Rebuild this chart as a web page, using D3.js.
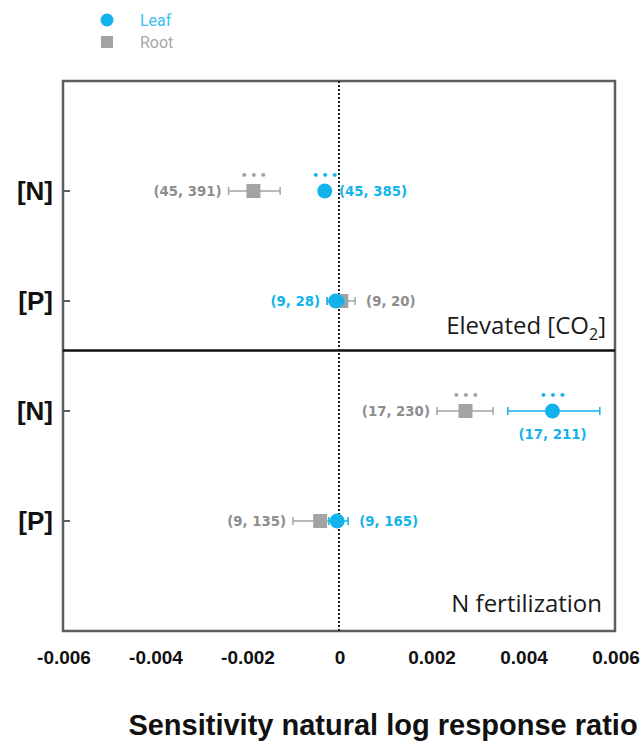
<!DOCTYPE html>
<html><head><meta charset="utf-8">
<script src="https://cdn.jsdelivr.net/npm/d3@7"></script>
<style>body{margin:0;background:#fff}svg{display:block}</style>
</head><body>
<svg id="chart" width="644" height="745"></svg>
<script>
// ---- data ----
const panels = ["Elevated [CO2]", "N fertilization"];
const rowLabels = ["[N]", "[P]", "[N]", "[P]"];
const rowPanel = [0, 0, 1, 1];
const leafMean = [-0.00031, -0.00007, 0.00464, -0.00004];
const leafLo   = [-0.00038, -0.00026, 0.00367, -0.00022];
const leafHi   = [-0.00024, 0.00010, 0.00567, 0.00020];
const rootMean = [-0.00186, 0.00005, 0.00275, -0.00041];
const rootLo   = [-0.00240, -0.00025, 0.00213, -0.00100];
const rootHi   = [-0.00128, 0.00035, 0.00335, -0.00010];
const leafN = ["(45, 385)", "(9, 28)", "(17, 211)", "(9, 165)"];
const rootN = ["(45, 391)", "(9, 20)", "(17, 230)", "(9, 135)"];
const leafSig = ["***", "", "***", ""];
const rootSig = ["***", "", "***", ""];
const leafLabelSide = ["right", "left", "below", "right"];
const rootLabelSide = ["left", "right", "left", "left"];
const xTicks = [-0.006, -0.004, -0.002, 0, 0.002, 0.004, 0.006];
const seriesNames = ["Leaf", "Root"];

// ---- layout ----
const blue = "#12b3ec", gray = "#a3a3a3", grayTxt = "#8d8d8d";
const svg = d3.select("#chart");
const x = d3.scaleLinear().domain([-0.006, 0.006]).range([63, 615]);
const y = d3.scaleLinear().domain([0, 5]).range([81, 631]);
const rowY = i => y(i + 1);

// frame
svg.append("rect").attr("x", x(-0.006)).attr("y", y(0))
  .attr("width", x(0.006) - x(-0.006)).attr("height", y(5) - y(0))
  .attr("fill", "none").attr("stroke", "#5e5e5e").attr("stroke-width", 2.5);

// zero dotted line
svg.append("line").attr("x1", x(0)).attr("x2", x(0)).attr("y1", y(0)).attr("y2", y(5))
  .attr("stroke", "#222").attr("stroke-width", 2).attr("stroke-dasharray", "2,2");

// divider
svg.append("line").attr("x1", x(-0.006)).attr("x2", x(0.006))
  .attr("y1", y(2.45)).attr("y2", y(2.45)).attr("stroke", "#111").attr("stroke-width", 2.5);

// y ticks + labels
const rows = d3.range(rowLabels.length);
svg.selectAll(".ytick").data(rows).join("line")
  .attr("x1", x(-0.006)).attr("x2", x(-0.006) + 7)
  .attr("y1", rowY).attr("y2", rowY).attr("stroke", "#5e5e5e").attr("stroke-width", 2);
svg.selectAll(".ylab").data(rows).join("text")
  .attr("x", 53).attr("y", i => rowY(i) + 9)
  .attr("text-anchor", "end").attr("font-family", "Liberation Sans, Arial, sans-serif")
  .attr("font-weight", "bold").attr("font-size", 26).attr("fill", "#111")
  .text(i => rowLabels[i]);

// x tick labels
svg.selectAll(".xlab").data(xTicks).join("text")
  .attr("x", d => x(d) + 1).attr("y", 664).attr("text-anchor", "middle")
  .attr("font-family", "Liberation Sans, Arial, sans-serif").attr("font-weight", "bold")
  .attr("font-size", 19).attr("fill", "#111")
  .text(d => d === 0 ? "0" : d3.format(".3f")(d).replace("−", "-"));

// x axis title
svg.append("text").attr("x", 383).attr("y", 735).attr("text-anchor", "middle")
  .attr("font-family", "Liberation Sans, Arial, sans-serif").attr("font-weight", "bold")
  .attr("font-size", 29).attr("fill", "#111").text("Sensitivity natural log response ratio");

// panel labels
const pl = svg.append("text").attr("x", 606).attr("y", y(2.45) - 17).attr("text-anchor", "end")
  .attr("font-family", "Open Sans, sans-serif").attr("font-size", 24).attr("font-weight", 500)
  .attr("fill", "#1a1a1a");
pl.append("tspan").text("Elevated [CO");
pl.append("tspan").attr("font-size", 16).attr("dy", 6).text("2");
pl.append("tspan").attr("dy", -6).text("]");
svg.append("text").attr("x", 602).attr("y", y(5) - 19).attr("text-anchor", "end")
  .attr("font-family", "Open Sans, sans-serif").attr("font-size", 24).attr("font-weight", 500)
  .attr("fill", "#1a1a1a").text(panels[1]);

// error bars helper
function errbar(lo, hi, yy, color) {
  const g = svg.append("g").attr("stroke", color).attr("stroke-width", 1.5);
  g.append("line").attr("x1", x(lo)).attr("x2", x(hi)).attr("y1", yy).attr("y2", yy);
  g.append("line").attr("x1", x(lo)).attr("x2", x(lo)).attr("y1", yy - 4).attr("y2", yy + 4);
  g.append("line").attr("x1", x(hi)).attr("x2", x(hi)).attr("y1", yy - 4).attr("y2", yy + 4);
}
const annFont = "DejaVu Sans, Verdana, sans-serif";
function ann(txt, side, lo, hi, mean, yy, color) {
  const t = svg.append("text").attr("font-family", annFont).attr("font-weight", "bold")
    .attr("font-size", 13.3).attr("fill", color).text(txt);
  if (side === "left") t.attr("x", x(lo) - 7).attr("y", yy + 5).attr("text-anchor", "end");
  else if (side === "right") t.attr("x", x(hi) + 11).attr("y", yy + 5).attr("text-anchor", "start");
  else t.attr("x", x(mean)).attr("y", yy + 28).attr("text-anchor", "middle");
}
function sig(s, mean, yy, color) {
  if (!s) return;
  svg.append("text").attr("x", x(mean) + 1.5).attr("y", yy - 12).attr("text-anchor", "middle")
    .attr("font-family", annFont).attr("font-size", 11).attr("font-weight", "bold")
    .attr("letter-spacing", 2.5).attr("fill", color).text("•••");
}

// root (drawn first)
rows.forEach(i => {
  const yy = rowY(i);
  errbar(rootLo[i], rootHi[i], yy, gray);
  svg.append("rect").attr("x", x(rootMean[i]) - 7).attr("y", yy - 7)
    .attr("width", 14).attr("height", 14).attr("fill", gray);
  ann(rootN[i], rootLabelSide[i], rootLo[i], rootHi[i], rootMean[i], yy, grayTxt);
  sig(rootSig[i], rootMean[i], yy, gray);
});
// leaf
rows.forEach(i => {
  const yy = rowY(i);
  errbar(leafLo[i], leafHi[i], yy, blue);
  svg.append("circle").attr("cx", x(leafMean[i])).attr("cy", yy).attr("r", 7.5).attr("fill", blue);
  ann(leafN[i], leafLabelSide[i], leafLo[i], leafHi[i], leafMean[i], yy, blue);
  sig(leafSig[i], leafMean[i], yy, blue);
});

// legend
const lg = svg.append("g");
lg.append("circle").attr("cx", 107).attr("cy", 20).attr("r", 6.5).attr("fill", blue);
lg.append("rect").attr("x", 101).attr("y", 36).attr("width", 12).attr("height", 12).attr("fill", gray);
lg.append("text").attr("x", 140).attr("y", 26).attr("font-family", "Roboto, sans-serif")
  .attr("font-size", 16).attr("fill", "#3cc0f0").text(seriesNames[0]);
lg.append("text").attr("x", 140).attr("y", 48).attr("font-family", "Roboto, sans-serif")
  .attr("font-size", 16).attr("fill", "#a8a8a8").text(seriesNames[1]);
</script>
</body></html>
